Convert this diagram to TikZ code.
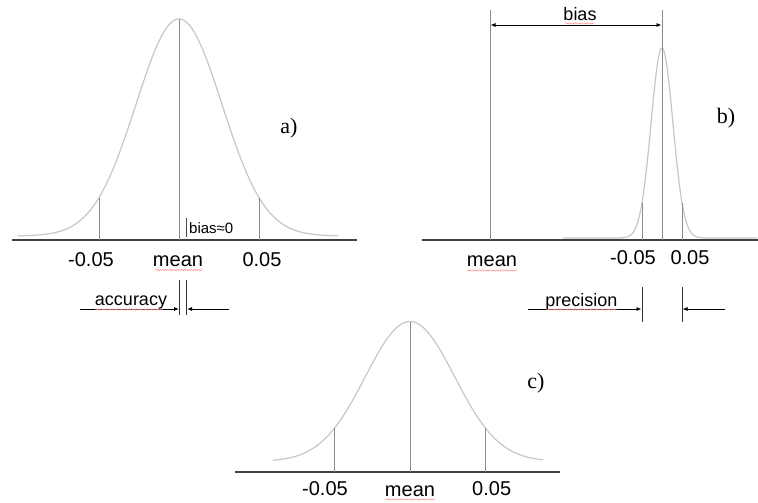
\documentclass[tikz,border=0pt]{standalone}
\usepackage{fontspec}
\setmainfont{Liberation Serif}
\newfontfamily\arialf{Liberation Sans}
\usetikzlibrary{arrows.meta,decorations.pathmorphing}
\begin{document}
\begin{tikzpicture}[x=1pt,y=-1pt,
  curve/.style={draw=black!22, line width=1.2pt},
  vline/.style={draw=black!45, line width=0.9pt},
  axis/.style={draw=black!75, line width=1.1pt},
  arr/.style={-{Latex[length=5pt,width=4pt]}, black, line width=0.8pt},
  darr/.style={{Latex[length=5pt,width=4pt]}-{Latex[length=5pt,width=4pt]}, black, line width=0.8pt},
  big/.style={font=\arialf\fontsize{20}{22}\selectfont, inner sep=0pt, anchor=base},
  mid/.style={font=\arialf\fontsize{18}{20}\selectfont, inner sep=0pt, anchor=base},
  small/.style={font=\arialf\fontsize{15}{17}\selectfont, inner sep=0pt, anchor=base west},
  tag/.style={font=\fontsize{22}{24}\selectfont, inner sep=0pt, anchor=base},
  spell/.style={draw=red!45, line width=0.45pt, decorate, decoration={snake, amplitude=0.6pt, segment length=2.4pt}}
]
\fill[white] (0,0) rectangle (758,503);
\useasboundingbox (0,0) rectangle (758,503);

% ---------------- panel a ----------------
\coordinate (aL) at (12,240);
\coordinate (aR) at (357,240);
\draw[axis] (aL) -- (aR);
\draw[curve] plot[domain=18:338,samples=220] (\x,{236-217*exp(-0.5*((\x-179)/43)*((\x-179)/43))});
\coordinate (aMt) at (179,19);   \coordinate (aMb) at (179,240);
\coordinate (aLt) at (99,198);   \coordinate (aLb) at (99,240);
\coordinate (aRt) at (259,198);  \coordinate (aRb) at (259,240);
\draw[vline] (aMt) -- (aMb);
\draw[vline] (aLt) -- (aLb);
\draw[vline] (aRt) -- (aRb);
\coordinate (bzT) at (186.5,218); \coordinate (bzB) at (186.5,237);
\draw[black!70, line width=0.8pt] (bzT) -- (bzB);
\node[small] (bz) at (189,233) {bias≈0};
\node[tag] (ta) at (289,133) {a)};
\node[big] (am5) at (91,266.5) {-0.05};
\node[big] (amean) at (178,266) {mean};
\node[big] (ap5) at (262,266.5) {0.05};
\draw[spell] (155,270) -- (203,270);
% accuracy
\coordinate (acL1) at (179.3,280); \coordinate (acL2) at (179.3,315);
\coordinate (acR1) at (186.7,280); \coordinate (acR2) at (186.7,315);
\draw[black!80, line width=0.8pt] (acL1) -- (acL2);
\draw[black!80, line width=0.8pt] (acR1) -- (acR2);
\coordinate (acA) at (80,309);  \coordinate (acAe) at (179,309);
\coordinate (acB) at (229,309); \coordinate (acBe) at (187,309);
\draw[arr] (acA) -- (acAe);
\draw[arr] (acB) -- (acBe);
\node[mid] (acc) at (131,305.5) {accuracy};
\draw[spell] (95,309.5) -- (163,309.5);

% ---------------- panel b ----------------
\coordinate (bL) at (422,240);
\coordinate (bR) at (758,240);
\draw[axis] (bL) -- (bR);
\draw[curve] plot[domain=563:757,samples=400] (\x,{238-190*exp(-min(12,0.5*((\x-662)/10.9)*((\x-662)/10.9)))});
\coordinate (bMt) at (490,10);  \coordinate (bMb) at (490,240);
\coordinate (bPt) at (662,10);  \coordinate (bPb) at (662,240);
\coordinate (bLt) at (642,203); \coordinate (bLb) at (642,240);
\coordinate (bRt) at (682,203); \coordinate (bRb) at (682,240);
\draw[vline] (bMt) -- (bMb);
\draw[vline] (bPt) -- (bPb);
\draw[vline] (bLt) -- (bLb);
\draw[vline] (bRt) -- (bRb);
\coordinate (bbA) at (490.5,25); \coordinate (bbB) at (661.5,25);
\draw[darr] (bbA) -- (bbB);
\node[mid] (bias) at (580,21) {bias};
\draw[spell] (565,23.5) -- (595,23.5);
\node[tag] (tb) at (726,123) {b)};
\node[big] (bmean) at (492,266.5) {mean};
\draw[spell] (467,270.5) -- (517,270.5);
\node[big] (bm5) at (633,264) {-0.05};
\node[big] (bp5) at (690,264) {0.05};
% precision
\coordinate (pL1) at (642,287); \coordinate (pL2) at (642,322);
\coordinate (pR1) at (682,287); \coordinate (pR2) at (682,322);
\draw[black!80, line width=0.8pt] (pL1) -- (pL2);
\draw[black!80, line width=0.8pt] (pR1) -- (pR2);
\coordinate (pA) at (528,309); \coordinate (pAe) at (641.5,309);
\coordinate (pB) at (725,309); \coordinate (pBe) at (682.5,309);
\draw[arr] (pA) -- (pAe);
\draw[arr] (pB) -- (pBe);
\node[mid] (prec) at (581.5,306) {precision};
\draw[spell] (546,309.5) -- (617,309.5);

% ---------------- panel c ----------------
\coordinate (cL) at (235,472);
\coordinate (cR) at (560,472);
\draw[axis] (cL) -- (cR);
\draw[curve] plot[domain=273:543,samples=200] (\x,{461.5-140*exp(-0.5*((\x-410)/44.6)*((\x-410)/44.6))});
\coordinate (cMt) at (410,322);   \coordinate (cMb) at (410,472);
\coordinate (cLt) at (334.3,428.3); \coordinate (cLb) at (334.3,472);
\coordinate (cRt) at (485.3,428.3); \coordinate (cRb) at (485.3,472);
\draw[vline] (cMt) -- (cMb);
\draw[vline] (cLt) -- (cLb);
\draw[vline] (cRt) -- (cRb);
\node[tag] (tc) at (536,388) {c)};
\node[big] (cm5) at (325,495) {-0.05};
\node[big] (cmean) at (410,496.5) {mean};
\draw[spell] (385,499.5) -- (435,499.5);
\node[big] (cp5) at (491.7,495) {0.05};
\end{tikzpicture}
\end{document}
